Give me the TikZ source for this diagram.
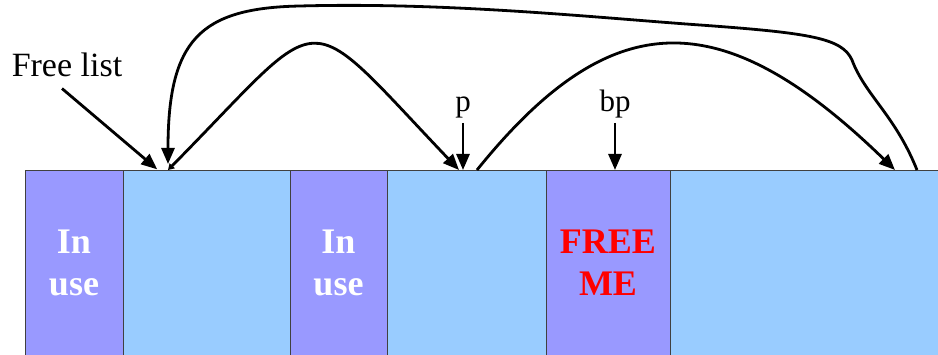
\documentclass[tikz,border=0pt]{standalone}
\usepackage{fontspec}
\setmainfont{Liberation Serif}
\usepackage{xcolor}
\usetikzlibrary{arrows.meta,positioning}
\definecolor{usedblk}{HTML}{9999FF}
\definecolor{freeblk}{HTML}{99CCFF}
\tikzset{
  blk/.style={draw=black!75,line width=0.8pt,minimum height=185pt,inner sep=0pt,outer sep=0pt,
    align=center,font=\fontsize{36}{42}\selectfont\bfseries},
  inuse/.style={blk,fill=usedblk,text=white},
  freeb/.style={blk,fill=freeblk},
  lbl/.style={inner sep=1pt,font=\fontsize{31}{35}\selectfont},
  ptr/.style={line width=2.8pt,-{Triangle[length=16pt,width=13pt]}},
}

\begin{document}
\begin{tikzpicture}[x=1pt,y=-1pt]
\useasboundingbox (0,0) rectangle (938,355);
% heap blocks
\node[inuse,minimum width=98pt] (b1) at (74,262.5) {In\\use};
\node[freeb,minimum width=167pt,right=0pt of b1] (b2) {};
\node[inuse,minimum width=97pt,right=0pt of b2] (b3) {In\\use};
\node[freeb,minimum width=159pt,right=0pt of b3] (b4) {};
\node[inuse,minimum width=124pt,right=0pt of b4,text=red] (b5) {FREE\\ME};
\node[freeb,minimum width=268pt,right=0pt of b5] (b6) {};
% headers of the free blocks
\coordinate[xshift=45pt] (h2) at (b2.north west);
\coordinate[xshift=72pt] (h4in) at (b4.north west);
\coordinate[xshift=90pt] (h4out) at (b4.north west);
\coordinate[xshift=225pt] (h6in) at (b6.north west);
\coordinate[xshift=247pt] (h6out) at (b6.north west);
% labels
\node[lbl,anchor=base,font=\fontsize{34}{38}\selectfont] (fl) at (67,77) {Free list};
\node[lbl,anchor=base] (p) at (463,112) {p};
\node[lbl,anchor=base] (bp) at (615,112) {bp};
% pointers
\draw[ptr,shorten >=1pt] ([xshift=-5pt,yshift=-10pt]fl.south) -- ([xshift=-10pt]h2);
\draw[ptr] ([yshift=-3pt]p.south) -- (p.south |- b4.north);
\draw[ptr] ([yshift=-3pt]bp.south) -- (bp.south |- b5.north);
\draw[ptr,{Triangle[length=6pt,width=7pt]}-{Triangle[length=16pt,width=13pt]}]
  (h2) .. controls (330,6) and (298,1) .. (h4in);
\draw[ptr] (h4out) .. controls (610,5) and (720,0) .. (h6in);
\draw[ptr,shorten >=6pt] (h6out) .. controls (895,115) and (865,95) .. (852,60)
  .. controls (842,38) and (810,33) .. (700,25)
  .. controls (600,18) and (450,2) .. (300,6)
  .. controls (200,8) and (168,40) .. (h2);
\end{tikzpicture}
\end{document}
